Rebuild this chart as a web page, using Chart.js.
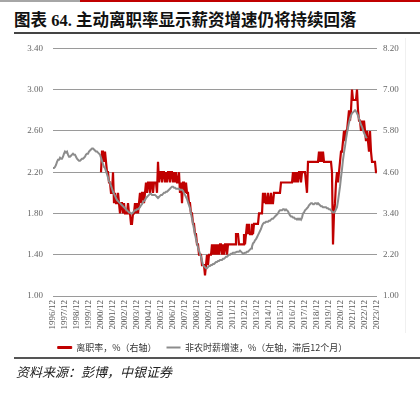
<!DOCTYPE html>
<html>
<head>
<meta charset="utf-8">
<script src="https://cdn.jsdelivr.net/npm/chart.js@4"></script>
<style>
  body { margin: 0; width: 420px; height: 398px; background: #fff; position: relative; overflow: hidden; }
  .abs { position: absolute; }
  #title { left: 14px; top: 7px; font: bold 16.5px "Liberation Serif", "Noto Sans CJK SC", serif; color: #111; white-space: nowrap; }
  #source { left: 16px; top: 362px; font: italic 13px "Noto Sans CJK SC", sans-serif; color: #222; white-space: nowrap; }
  #wrap { left: 0; top: 33px; width: 405px; height: 331px; }
</style>
</head>
<body>
<div class="abs" style="left:0;top:0;width:80px;height:2px;background:#a6a6a6"></div>
<div class="abs" style="left:80px;top:0;width:340px;height:2px;background:#c00000"></div>
<div id="title" class="abs">图表 64. 主动离职率显示薪资增速仍将持续回落</div>
<div class="abs" style="left:14px;top:32px;width:406px;height:1.5px;background:#444"></div>
<div class="abs" style="left:405px;top:38px;width:1px;height:295px;background:#f0f0f0"></div>
<div id="wrap" class="abs"><canvas id="chart"></canvas></div>
<div class="abs" style="left:14px;top:357px;width:406px;height:1.5px;background:#555"></div>
<div id="source" class="abs">资料来源：彭博，中银证券</div>
<script>
// 月度标签 1996/12 - 2023/12
const months = [];
for (let y = 1996, m = 12; y < 2023 || (y === 2023 && m <= 12); ) {
  months.push(y + "/" + String(m).padStart(2, "0"));
  m++;
  if (m > 12) { m = 1; y++; }
}

const yLeftTicks = [1.0, 1.4, 1.8, 2.2, 2.6, 3.0, 3.4];
const yRightTicks = [1.0, 2.2, 3.4, 4.6, 5.8, 7.0, 8.2];

// 非农时薪增速（左轴，滞后12个月），从1996/12开始
const wageGrowth = [
  2.24,
  2.24, 2.25, 2.27, 2.30, 2.32, 2.32, 2.34, 2.33, 2.33, 2.35, 2.38, 2.40, // 1997
  2.39, 2.40, 2.37, 2.35, 2.35, 2.36, 2.37, 2.38, 2.37, 2.37, 2.35, 2.33, // 1998
  2.32, 2.31, 2.31, 2.32, 2.33, 2.33, 2.34, 2.35, 2.37, 2.38, 2.38, 2.40, // 1999
  2.41, 2.42, 2.43, 2.43, 2.42, 2.41, 2.40, 2.40, 2.39, 2.38, 2.37, 2.34, // 2000
  2.31, 2.28, 2.25, 2.24, 2.21, 2.18, 2.15, 2.11, 2.10, 2.07, 2.04, 2.01, // 2001
  1.99, 1.97, 1.95, 1.93, 1.92, 1.91, 1.90, 1.89, 1.88, 1.87, 1.86, 1.85, // 2002
  1.84, 1.83, 1.82, 1.81, 1.81, 1.80, 1.80, 1.81, 1.82, 1.83, 1.83, 1.84, // 2003
  1.84, 1.85, 1.86, 1.88, 1.89, 1.91, 1.92, 1.93, 1.95, 1.96, 1.97, 1.98, // 2004
  1.99, 1.99, 1.98, 1.98, 1.98, 1.98, 1.97, 1.96, 1.95, 1.96, 1.97, 1.98, // 2005
  1.98, 1.99, 2.00, 2.00, 2.01, 2.01, 2.02, 2.03, 2.04, 2.05, 2.06, 2.06, // 2006
  2.05, 2.05, 2.04, 2.04, 2.04, 2.04, 2.03, 2.03, 2.03, 2.02, 2.00, 1.98, // 2007
  1.96, 1.94, 1.91, 1.88, 1.85, 1.80, 1.75, 1.70, 1.65, 1.60, 1.55, 1.51, // 2008
  1.47, 1.44, 1.41, 1.38, 1.34, 1.30, 1.29, 1.28, 1.27, 1.27, 1.28, 1.29, // 2009
  1.29, 1.30, 1.30, 1.31, 1.31, 1.32, 1.33, 1.33, 1.34, 1.34, 1.35, 1.35, // 2010
  1.35, 1.36, 1.36, 1.37, 1.38, 1.38, 1.39, 1.40, 1.40, 1.41, 1.41, 1.42, // 2011
  1.42, 1.42, 1.42, 1.43, 1.43, 1.43, 1.44, 1.43, 1.42, 1.41, 1.41, 1.42, // 2012
  1.42, 1.43, 1.43, 1.44, 1.45, 1.46, 1.48, 1.51, 1.52, 1.54, 1.55, 1.57, // 2013
  1.59, 1.61, 1.63, 1.65, 1.68, 1.70, 1.71, 1.71, 1.72, 1.72, 1.72, 1.73, // 2014
  1.73, 1.74, 1.75, 1.75, 1.76, 1.77, 1.78, 1.79, 1.80, 1.82, 1.83, 1.83, // 2015
  1.83, 1.84, 1.84, 1.83, 1.84, 1.83, 1.82, 1.80, 1.78, 1.77, 1.77, 1.76, // 2016
  1.76, 1.75, 1.75, 1.74, 1.75, 1.74, 1.75, 1.74, 1.76, 1.80, 1.81, 1.83, // 2017
  1.84, 1.85, 1.86, 1.88, 1.89, 1.90, 1.90, 1.89, 1.89, 1.90, 1.90, 1.89, // 2018
  1.90, 1.89, 1.88, 1.87, 1.87, 1.86, 1.86, 1.86, 1.86, 1.85, 1.85, 1.84, // 2019
  1.84, 1.83, 1.82, 1.81, 1.81, 1.82, 1.84, 1.86, 1.92, 1.99, 2.06, 2.15, // 2020
  2.23, 2.32, 2.39, 2.45, 2.52, 2.58, 2.63, 2.68, 2.72, 2.75, 2.77, 2.78, // 2021
  2.79, 2.80, 2.79, 2.77, 2.75, 2.72, 2.69, 2.66, 2.64, 2.61, 2.58, 2.56, // 2022
  2.54, 2.53                                                               // 2023
];

// 离职率（右轴），从2000/12开始
const quitsRate = [
  4.6,
  5.2, 5.2, 4.9, 5.2, 4.9, 4.6, 4.6, 4.3, 4.3, 4.0, 4.0, 4.6, // 2001
  3.7, 4.0, 3.7, 3.7, 4.0, 3.7, 3.4, 3.7, 3.7, 3.4, 3.7, 3.4, // 2002
  3.4, 3.4, 3.7, 3.4, 3.4, 3.1, 3.1, 3.4, 3.4, 3.7, 3.4, 3.7, // 2003
  3.4, 3.7, 4.0, 3.7, 4.0, 4.0, 3.7, 4.0, 4.3, 4.0, 4.3, 4.3, // 2004
  4.0, 4.3, 4.3, 4.0, 4.3, 4.3, 4.3, 4.0, 4.9, 4.3, 4.6, 4.6, // 2005
  4.3, 4.6, 4.6, 4.3, 4.6, 4.3, 4.6, 4.6, 4.3, 4.6, 4.6, 4.3, // 2006
  4.6, 4.3, 4.6, 4.3, 4.3, 4.6, 4.0, 4.3, 3.7, 4.3, 4.3, 4.0, // 2007
  4.3, 4.0, 4.0, 3.7, 3.7, 3.4, 3.4, 3.1, 3.1, 2.8, 2.8, 2.5, // 2008
  2.5, 2.2, 2.2, 2.2, 1.9, 1.9, 1.9, 1.6, 1.9, 2.2, 1.9, 2.2, // 2009
  2.2, 2.2, 2.5, 2.2, 2.5, 2.2, 2.5, 2.2, 2.5, 2.2, 2.5, 2.5, // 2010
  2.2, 2.5, 2.2, 2.5, 2.5, 2.2, 2.5, 2.5, 2.5, 2.5, 2.5, 2.5, // 2011
  2.5, 2.5, 2.8, 2.8, 2.8, 2.5, 2.5, 2.5, 2.5, 2.5, 2.8, 2.5, // 2012
  2.8, 3.1, 2.8, 3.1, 2.8, 2.8, 3.1, 2.8, 3.1, 3.1, 3.1, 3.1, // 2013
  3.1, 3.4, 3.4, 3.4, 3.4, 4.0, 3.7, 4.0, 3.7, 3.7, 4.0, 3.7, // 2014
  3.7, 4.0, 3.7, 3.7, 4.0, 4.0, 4.0, 4.0, 4.0, 4.0, 4.0, 4.3, // 2015
  4.3, 4.3, 4.3, 4.3, 4.3, 4.3, 4.3, 4.3, 4.3, 4.3, 4.3, 4.6, // 2016
  4.3, 4.6, 4.3, 4.6, 4.3, 4.6, 4.6, 4.3, 4.6, 4.6, 4.6, 4.6, // 2017
  4.3, 4.0, 4.9, 4.9, 4.9, 4.9, 4.9, 4.9, 4.9, 4.9, 4.9, 4.9, // 2018
  4.9, 5.2, 4.9, 5.2, 4.9, 5.2, 4.9, 4.9, 4.9, 4.9, 4.9, 4.9, // 2019
  4.9, 4.9, 4.6, 2.5, 3.4, 3.7, 4.3, 4.6, 4.3, 4.6, 4.9, 5.2, // 2020
  5.2, 5.5, 5.8, 5.5, 5.8, 5.8, 6.1, 6.4, 6.1, 6.4, 7.0, 6.7, // 2021
  6.7, 6.7, 6.7, 7.0, 6.4, 6.1, 6.1, 5.8, 6.1, 5.8, 6.1, 5.8, // 2022
  5.5, 5.8, 5.5, 5.2, 5.8, 5.2, 4.9, 4.9, 4.9, 4.9, 4.6, 4.6  // 2023
];
const quitsStart = months.indexOf("2000/12");

const seriesNames = ["离职率，%（右轴）", "非农时薪增速，%（左轴，滞后12个月）"];

const tickFont = { family: "'Liberation Serif', serif", size: 9 };

const ctx = document.getElementById("chart").getContext("2d");
const chart = new Chart(ctx, {
  type: "line",
  data: {
    labels: months,
    datasets: [
      {
        label: seriesNames[0],
        data: new Array(quitsStart).fill(null).concat(quitsRate),
        yAxisID: "y1",
        borderColor: "#c00000",
        backgroundColor: "#c00000",
        borderWidth: 2.2,
        pointRadius: 0,
        tension: 0,
        order: 1,
      },
      {
        label: seriesNames[1],
        data: wageGrowth,
        yAxisID: "y",
        borderColor: "#8c8c8c",
        backgroundColor: "#8c8c8c",
        borderWidth: 2,
        pointRadius: 0,
        tension: 0,
        order: 0,
      },
    ],
  },
  options: {
    responsive: true,
    maintainAspectRatio: false,
    animation: false,
    layout: { padding: { top: 1, bottom: 2, left: 0, right: 0 } },
    plugins: {
      tooltip: { enabled: false },
      legend: {
        position: "bottom",
        labels: {
          boxWidth: 14,
          boxHeight: 2,
          padding: 10,
          color: "#333",
          font: { family: "'Noto Sans CJK SC', sans-serif", size: 9 },
          sort: (a, b) => a.datasetIndex - b.datasetIndex,
          generateLabels: function (chart) {
            const items = Chart.defaults.plugins.legend.labels.generateLabels(chart);
            items.forEach((it) => { it.lineWidth = it.datasetIndex === 0 ? 1 : 0; });
            return items;
          },
        },
      },
    },
    scales: {
      x: {
        type: "category",
        offset: false,
        grid: { display: false, drawTicks: false },
        border: { display: false },
        ticks: {
          autoSkip: false,
          maxRotation: 90,
          minRotation: 90,
          padding: 4,
          color: "#555",
          font: tickFont,
          callback: function (v) {
            const l = this.getLabelForValue(v);
            return l.endsWith("/12") ? l : null;
          },
        },
        afterFit: (s) => { s.height = 37; },
      },
      y: {
        position: "left",
        min: yLeftTicks[0],
        max: yLeftTicks[yLeftTicks.length - 1],
        afterBuildTicks: (s) => { s.ticks = yLeftTicks.map((v) => ({ value: v })); },
        ticks: {
          padding: 10,
          color: "#666",
          font: tickFont,
          callback: (v) => Number(v).toFixed(2),
        },
        grid: { color: "#9a9a9a", borderDash: [1, 1], drawTicks: false, lineWidth: 1 },
        border: { display: false },
        afterFit: (s) => { s.width = 53; },
      },
      y1: {
        position: "right",
        min: yRightTicks[0],
        max: yRightTicks[yRightTicks.length - 1],
        afterBuildTicks: (s) => { s.ticks = yRightTicks.map((v) => ({ value: v })); },
        ticks: {
          padding: 6,
          color: "#666",
          font: tickFont,
          callback: (v) => Number(v).toFixed(2),
        },
        grid: { drawOnChartArea: false, drawTicks: false },
        border: { display: false },
        afterFit: (s) => { s.width = 28; },
      },
    },
  },
});
</script>
</body>
</html>
